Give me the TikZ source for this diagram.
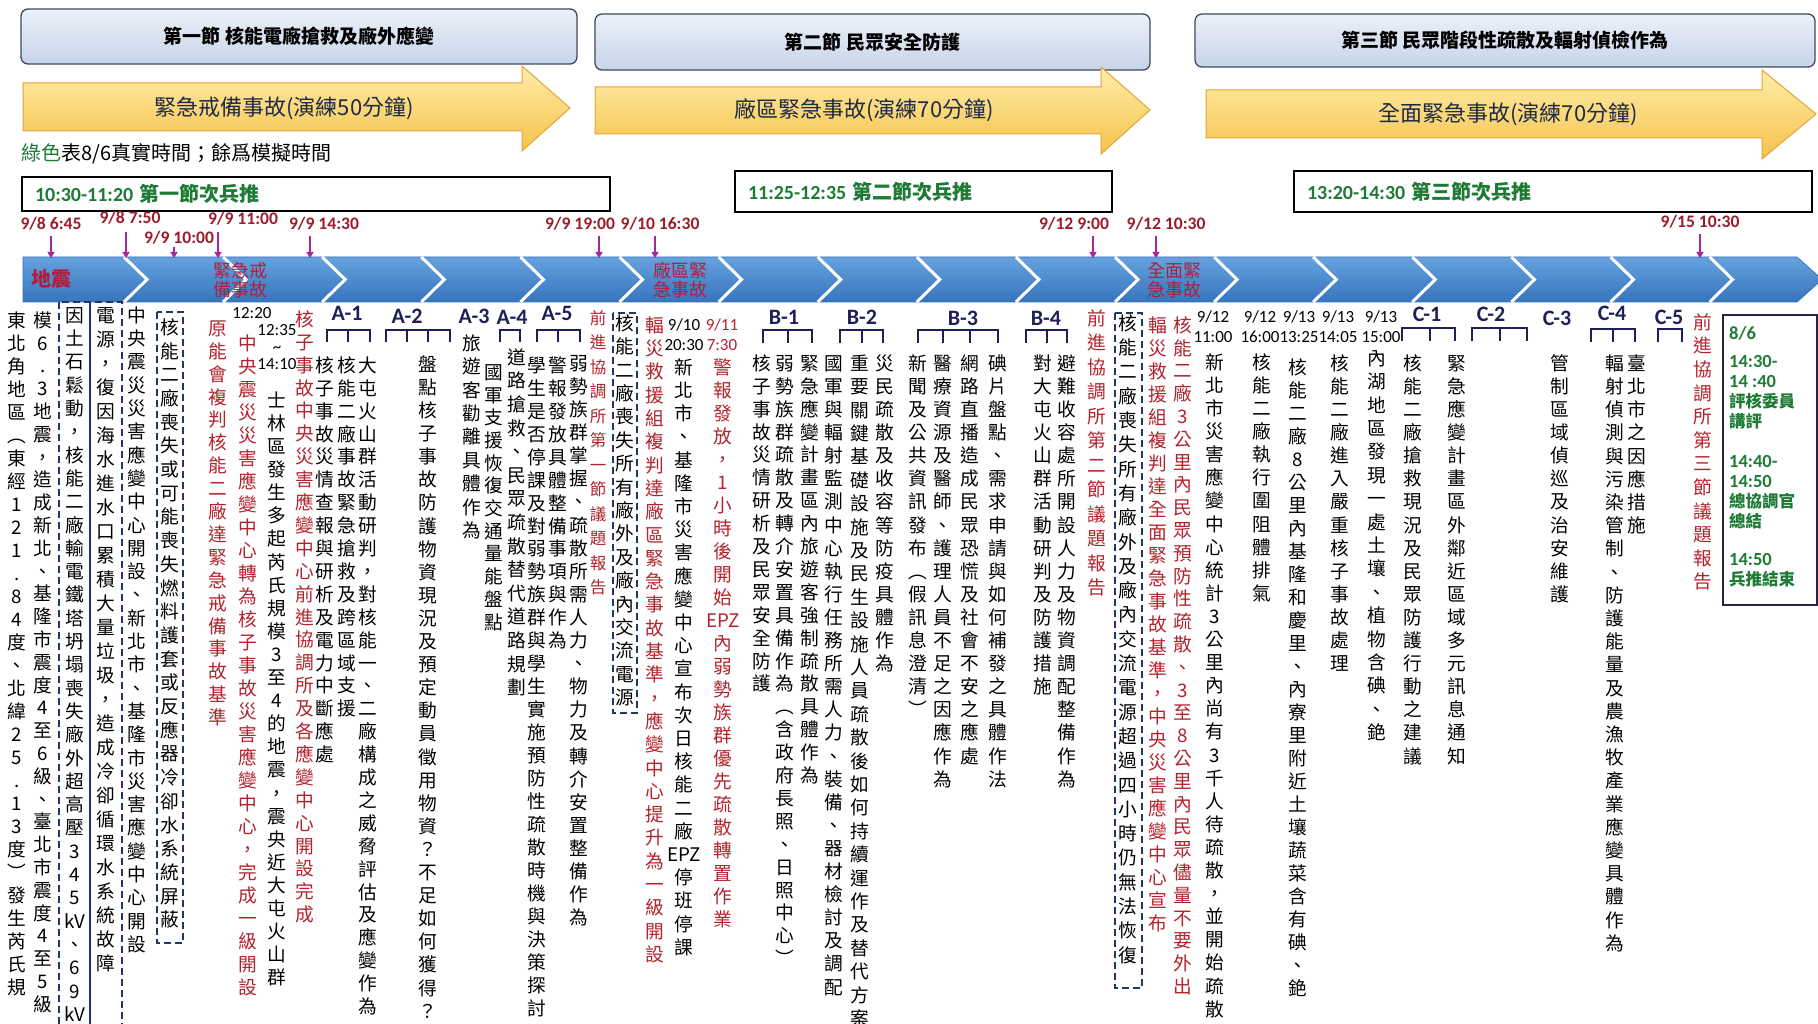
\documentclass[tikz,border=0pt]{standalone}
\usepackage{fontspec}
\setmainfont{Carlito}
\newfontfamily\cjk{Noto Sans CJK TC}
\usetikzlibrary{arrows.meta}
\definecolor{cred}{HTML}{B3232D}
\definecolor{cdate}{HTML}{9C1C2C}
\definecolor{cgreen}{HTML}{1E7B36}
\definecolor{cnavy}{HTML}{1E2157}
\definecolor{cpurple}{HTML}{A3279F}
\definecolor{cbandT}{HTML}{66A2DE}
\definecolor{cbandB}{HTML}{3674BC}
\definecolor{cbandL}{HTML}{B01E3C}
\definecolor{cdash}{HTML}{1F3864}
\definecolor{cHt}{HTML}{ECF1F9}
\definecolor{cHb}{HTML}{C7D4E9}
\definecolor{cHd}{HTML}{404A5E}
\definecolor{cYt}{HTML}{FFEDAA}
\definecolor{cYb}{HTML}{F5C24A}
\definecolor{cYd}{HTML}{E3A336}
\definecolor{cYtext}{HTML}{1F2A44}
\definecolor{cGb}{HTML}{2E1F45}
\makeatletter
\newdimen\vtpitch
\newcommand\vtxt[2]{\vtpitch=#1pt\relax\vbox{\offinterlineskip\@tfor\vt@c:=#2\do{\vbox to\vtpitch{\vss\hbox to 1.2em{\hss\smash{\vt@c}\hss}\kern\dimexpr\vtpitch/2-0.38em\relax}}}}
\makeatother
\newcommand\vcol[6][black]{\node[vc,text=#1] (#2) at (#3,{#4-#5/2}) {\vtxt{#5}{#6}};}
\tikzset{
  vc/.style={inner sep=0pt, anchor=north, font=\cjk\fontsize{18.7}{20}\selectfont},
  vcs/.style={font=\cjk\fontsize{16.5}{18}\selectfont},
  hdr/.style={rectangle, rounded corners=7pt, draw=cHd, line width=1.3pt, top color=cHt, bottom color=cHb, font=\cjk\bfseries\fontsize{19}{22}\selectfont, text=black, inner sep=0pt},
  yarrow/.style={top color=cYt, bottom color=cYb, draw=cYd, line width=1pt},
  ytext/.style={font=\cjk\fontsize{22}{24}\selectfont, text=cYtext, inner sep=0pt},
  tbox/.style={draw=black, line width=2pt, minimum height=34pt, inner xsep=13pt, inner ysep=0pt, align=left, anchor=north west, text=cgreen, font=\bfseries\fontsize{20}{22}\selectfont},
  dt/.style={font=\bfseries\fontsize{17.6}{20}\selectfont, text=cdate, inner sep=0pt},
  darr/.style={draw=cpurple, line width=1.3pt, -{Triangle[width=7pt,length=6pt]}},
  bl/.style={font=\cjk\fontsize{18}{19}\selectfont, text=cbandL, align=center, inner sep=0pt},
  sl/.style={font=\bfseries\fontsize{22}{24}\selectfont, text=cnavy, inner sep=0pt},
  brk/.style={draw=cnavy, line width=2pt},
  dbox/.style={draw=cdash, line width=1.8pt, dash pattern=on 7pt off 4pt},
  tm/.style={font=\fontsize{17}{20}\selectfont, align=center, inner sep=0pt},
}
\begin{document}
\begin{tikzpicture}[x=1pt,y=-1pt]
\useasboundingbox (0,0) rectangle (1818,1024);
\fill[white] (0,0) rectangle (1818,1024);

% headers
\node[hdr, minimum width=556pt, minimum height=55pt] (h1) at (299,36.5) {第一節 核能電廠搶救及廠外應變};
\node[hdr, minimum width=555pt, minimum height=56pt] (h2) at (872.5,42) {第二節 民眾安全防護};
\node[hdr, minimum width=620pt, minimum height=53pt] (h3) at (1505,40.5) {第三節 民眾階段性疏散及輻射偵檢作為};

% yellow arrows
\shade[yarrow] (23,83) -- (522,83) -- (522,66) -- (570,108) -- (522,151) -- (522,131) -- (23,131) -- cycle;
\shade[yarrow] (595,87) -- (1101,87) -- (1101,67) -- (1150,110) -- (1101,154) -- (1101,134) -- (595,134) -- cycle;
\shade[yarrow] (1206,90) -- (1762,90) -- (1762,70) -- (1816,114) -- (1762,159) -- (1762,138) -- (1206,138) -- cycle;
\node[ytext] (y1) at (284,108) {緊急戒備事故(演練50分鐘)};
\node[ytext] (y2) at (864,110) {廠區緊急事故(演練70分鐘)};
\node[ytext] (y3) at (1508,114) {全面緊急事故(演練70分鐘)};

% subtitle
\node[anchor=west, inner sep=0pt, font=\cjk\fontsize{20}{22}\selectfont] (sub) at (21,154) {\textcolor{cgreen}{綠色}表8/6真實時間；餘爲模擬時間};

% session boxes
\node[tbox, text width=562pt] (t1) at (21,176) {10:30-11:20 {\cjk 第一節次兵推}};
\node[tbox, text width=351pt, minimum height=41pt] (t2) at (734,170) {11:25-12:35 {\cjk 第二節次兵推}};
\node[tbox, text width=492pt, minimum height=41pt] (t3) at (1293,170) {13:20-14:30 {\cjk 第三節次兵推}};

% band
\shade[top color=cbandT, bottom color=cbandB, draw=cbandB, line width=0.8pt] (23,257) -- (1797,257) -- (1822,279.5) -- (1797,302) -- (23,302) -- cycle;
\foreach \k in {0,...,16} {
  \draw[white, line width=3pt] ({147+99.1*\k-23},257) -- ({147+99.1*\k},279.5) -- ({147+99.1*\k-23},302);
}
\node[bl, font=\cjk\bfseries\fontsize{20}{21}\selectfont] (b0) at (51,279) {地震};
\node[bl] (b1) at (240,280) {緊急戒\\備事故};
\node[bl] (b2) at (680,280) {廠區緊\\急事故};
\node[bl] (b3) at (1174,280) {全面緊\\急事故};

% dates and arrows
\node[dt] (d1) at (51,224) {9/8 6:45};
\node[dt] (d2) at (130,218) {9/8 7:50};
\node[dt] (d3) at (179,238) {9/9 10:00};
\node[dt] (d4) at (243,219) {9/9 11:00};
\node[dt] (d5) at (324,224) {9/9 14:30};
\node[dt] (d6) at (580,224) {9/9 19:00};
\node[dt] (d7) at (660,224) {9/10 16:30};
\node[dt] (d8) at (1074,224) {9/12 9:00};
\node[dt] (d9) at (1166,224) {9/12 10:30};
\node[dt] (d10) at (1700,222) {9/15 10:30};
\foreach \n/\x/\ys in {1/51/236,2/126/232,3/174/247,4/218/232,5/310/236,6/599/236,7/655/236,8/1093/236,9/1156/236,10/1700/234} {
  \coordinate (ps\n) at (\x,\ys);
  \coordinate (pe\n) at (\x,258);
  \draw[darr] (ps\n) -- (pe\n);
}

% dashed boxes
\draw[dbox] (59,302) rectangle (90,1035);
\draw[dbox] (90,302) rectangle (122,1035);
\draw[dbox] (157,312) rectangle (183,943);
\draw[dbox] (613,313) rectangle (637,713);
\draw[dbox] (1115,313) rectangle (1142,988);

% section labels and brackets
\node[sl] (A1) at (347,313) {A-1};
\node[sl] (A2) at (407,316) {A-2};
\node[sl] (A3) at (474,316) {A-3};
\node[sl] (A4) at (512,317) {A-4};
\node[sl] (A5) at (557,313) {A-5};
\node[sl] (B1) at (784,317) {B-1};
\node[sl] (B2) at (862,317) {B-2};
\node[sl] (B3) at (963,318) {B-3};
\node[sl] (B4) at (1046,318) {B-4};
\node[sl] (C1) at (1427,314) {C-1};
\node[sl] (C2) at (1491,314) {C-2};
\node[sl] (C3) at (1557,318) {C-3};
\node[sl] (C4) at (1612,313) {C-4};
\node[sl] (C5) at (1669,317) {C-5};
\draw[brk] (327,342) -- (327,330) -- (370,330) -- (370,342) (348,330) -- (348,342);
\draw[brk] (386,342) -- (386,330) -- (450,330) -- (450,342) (407,330) -- (407,342) (428,330) -- (428,342);
\draw[brk] (500,342) -- (500,330) -- (520,330) -- (520,342);
\draw[brk] (537,342) -- (537,330) -- (580,330) -- (580,342) (558,330) -- (558,342);
\draw[brk] (763,343) -- (763,330) -- (812,330) -- (812,343) (788,330) -- (788,343);
\draw[brk] (840,343) -- (840,330) -- (883,330) -- (883,343) (862,330) -- (862,343);
\draw[brk] (918,343) -- (918,330) -- (998,330) -- (998,343) (943,330) -- (943,343) (970,330) -- (970,343);
\draw[brk] (1026,343) -- (1026,330) -- (1067,330) -- (1067,343) (1047,330) -- (1047,343);
\draw[brk] (1402,341) -- (1402,328) -- (1455,328) -- (1455,341) (1430,328) -- (1430,341);
\draw[brk] (1472,341) -- (1472,328) -- (1527,328) -- (1527,341) (1500,328) -- (1500,341);
\draw[brk] (1591,342) -- (1591,329) -- (1635,329) -- (1635,342) (1613,329) -- (1613,342);
\draw[brk] (1658,342) -- (1658,329) -- (1682,329) -- (1682,342);

% small time labels
\node[tm] (t1220) at (252,313) {12:20};
\node[tm] (t1235) at (277,347) {12:35\\[-3pt]\textasciitilde\\[-3pt]14:10};
\node[tm] (t910) at (684,335) {9/10\\20:30};
\node[tm, text=cred] (t911) at (722,335) {9/11\\7:30};
\node[tm] (t9121) at (1213,327) {9/12\\11:00};
\node[tm] (t9122) at (1260,327) {9/12\\16:00};
\node[tm] (t9131) at (1299,327) {9/13\\13:25};
\node[tm] (t9132) at (1338,327) {9/13\\14:05};
\node[tm] (t9133) at (1381,327) {9/13\\15:00};

% vertical columns
\vcol{c1}{17}{320}{23.0}{東北角地區︵東經121.84度、北緯25.13度︶發生芮氏規}
\vcol{c2}{43}{320}{22.8}{模6.3地震，造成新北、基隆市震度4至6級、臺北市震度4至5級}
\vcol{c3}{75}{315}{23.3}{因土石鬆動，核能二廠輸電鐵塔坍塌喪失廠外超高壓345{kV}、69{kV}}
\vcol{c4}{106}{315}{24.0}{電源，復因海水進水口累積大量垃圾，造成冷卻循環水系統故障}
\vcol{c5}{137}{315}{23.3}{中央震災災害應變中心開設、新北市、基隆市災害應變中心開設}
\vcol{c6}{170}{327}{23.7}{核能二廠喪失或可能喪失燃料護套或反應器冷卻水系統屏蔽}
\vcol[cred]{c7}{218}{328}{22.9}{原能會複判核能二廠達緊急戒備事故基準}
\vcol[cred]{c8}{248}{343}{23.0}{中央震災災害應變中心轉為核子事故災害應變中心，完成一級開設}
\vcol{c9}{277}{400}{23.1}{士林區發生多起芮氏規模3至4的地震，震央近大屯火山群}
\vcol[cred]{c10}{305}{319}{22.9}{核子事故中央災害應變中心前進協調所及各應變中心開設完成}
\vcol{a11}{325}{365}{22.9}{核子事故災情查報與研析及電力中斷應處}
\vcol{a12}{347}{365}{22.9}{核能二廠事故緊急搶救及跨區域支援}
\vcol{a13}{368}{365}{22.9}{大屯火山群活動研判，對核能一、二廠構成之威脅評估及應變作為}
\vcol{a2}{428}{364}{23.1}{盤點核子事故防護物資現況及預定動員徵用物資？不足如何獲得？}
\vcol{a3}{472}{343}{23.4}{旅遊客勸離具體作為}
\vcol{a41}{494}{372}{22.7}{國軍支援恢復交通量能盤點}
\vcol{a42}{517}{357}{23.6}{道路搶救、民眾疏散替代道路規劃}
\vcol{a51}{537}{365}{22.96}{學生是否停課及對弱勢族群與學生實施預防性疏散時機與決策探討}
\vcol{a52}{558}{365}{22.96}{警報發放具體整備事項與作為}
\vcol{a53}{579}{363}{23.1}{弱勢族群掌握、疏散所需人力、物力及轉介安置整備作為}
\node[vc,vcs,text=cred] (r1) at (598,{318-12.25}) {\vtxt{24.5}{前進協調所第一節議題報告}};
\vcol{d3t}{625}{323}{23.4}{核能二廠喪失所有廠外及廠內交流電源}
\vcol[cred]{r2}{655}{325}{23.3}{輻災救援組複判達廠區緊急事故基準，應變中心提升為一級開設}
\vcol{m1}{684}{367}{23.2}{新北市、基隆市災害應變中心宣布次日核能二廠{EPZ}停班停課}
\vcol[cred]{m2}{723}{367}{23.0}{警報發放，1小時後開始{EPZ}內弱勢族群優先疏散轉置作業}
\vcol{b11}{762}{363}{22.9}{核子事故災情研析及民眾安全防護}
\vcol{b12}{785}{363}{22.9}{弱勢族群疏散及轉介安置具備作為︵含政府長照、日照中心︶}
\vcol{b13}{810}{363}{22.9}{緊急應變計畫區內旅遊客強制疏散具體作為}
\vcol{b21}{834}{363}{23.1}{國軍與輻射監測中心執行任務所需人力、裝備、器材檢討及調配}
\vcol{b22}{860}{363}{23.4}{重要關鍵基礎設施及民生設施人員疏散後如何持續運作及替代方案}
\vcol{b23}{885}{363}{23.1}{災民疏散及收容等防疫具體作為}
\vcol{b31}{918}{363}{23.1}{新聞及公共資訊發布︵假訊息澄清︶}
\vcol{b32}{943}{363}{23.1}{醫療資源及醫師、護理人員不足之因應作為}
\vcol{b33}{970}{363}{23.1}{網路直播造成民眾恐慌及社會不安之應處}
\vcol{b34}{998}{363}{23.1}{碘片盤點、需求申請與如何補發之具體作法}
\vcol{b41}{1043}{363}{23.1}{對大屯火山群活動研判及防護措施}
\vcol{b42}{1067}{363}{23.1}{避難收容處所開設人力及物資調配整備作為}
\vcol[cred]{r3}{1097}{318}{24.5}{前進協調所第二節議題報告}
\vcol{d4t}{1128}{323}{24.3}{核能二廠喪失所有廠外及廠內交流電源超過四小時仍無法恢復}
\vcol[cred]{r4}{1158}{325}{23.0}{輻災救援組複判達全面緊急事故基準，中央災害應變中心宣布}
\vcol[cred]{r5}{1183}{325}{22.8}{核能二廠3公里內民眾預防性疏散、3至8公里內民眾儘量不要外出}
\vcol{e1}{1215}{362}{23.1}{新北市災害應變中心統計3公里內尚有3千人待疏散，並開始疏散}
\vcol{e2}{1262}{362}{23.1}{核能二廠執行圍阻體排氣}
\vcol{e3}{1298}{367}{23.0}{核能二廠8公里內基隆和慶里、內寮里附近土壤蔬菜含有碘、銫}
\vcol{e4}{1340}{363}{23.1}{核能二廠進入嚴重核子事故處理}
\vcol{e5}{1377}{358}{23.4}{內湖地區發現一處土壤、植物含碘、銫}
\vcol{f1}{1413}{363}{23.1}{核能二廠搶救現況及民眾防護行動之建議}
\vcol{f2}{1457}{363}{23.1}{緊急應變計畫區外鄰近區域多元訊息通知}
\vcol{f3}{1560}{363}{23.1}{管制區域偵巡及治安維護}
\vcol{f4}{1615}{363}{23.2}{輻射偵測與污染管制、防護能量及農漁牧產業應變具體作為}
\vcol{f5}{1637}{363}{23.2}{臺北市之因應措施}
\vcol[cred]{r6}{1703}{322}{23.6}{前進協調所第三節議題報告}

% green box
\node[draw=cGb, line width=2pt, minimum width=94pt, minimum height=290pt, inner sep=0pt] (gb) at (1770,460) {};
\node[anchor=north west, inner sep=0pt, align=left, text=cgreen, font=\bfseries\fontsize{18.5}{20}\selectfont] (gbt) at (1729,326)
 {8/6\\[8pt]14:30-\\14 :40\\{\cjk\fontsize{16.5}{20}\selectfont 評核委員}\\{\cjk\fontsize{16.5}{20}\selectfont 講評}\\[20pt]14:40-\\14:50\\{\cjk\fontsize{16.5}{20}\selectfont 總協調官}\\{\cjk\fontsize{16.5}{20}\selectfont 總結}\\[18pt]14:50\\{\cjk\fontsize{16.5}{20}\selectfont 兵推結束}};
\end{tikzpicture}
\end{document}
